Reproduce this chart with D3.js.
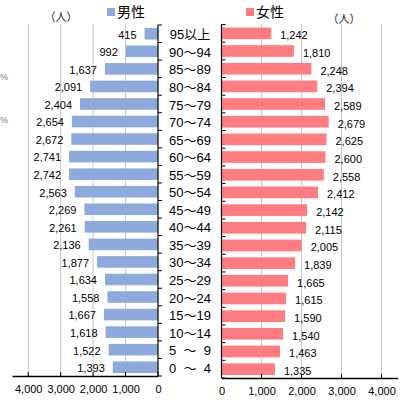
<!DOCTYPE html>
<html>
<head>
<meta charset="utf-8">
<script src="https://cdn.jsdelivr.net/npm/d3@7"></script>
<style>
  html, body { margin: 0; padding: 0; background: #fff; }
  svg { display: block; font-family: "Liberation Sans", Arial, "Noto Sans CJK JP", sans-serif; }
</style>
</head>
<body>
<svg id="chart" width="404" height="400"></svg>
<script>
// Age groups, oldest at the top
const ageGroups = ["95以上", "90～94", "85～89", "80～84", "75～79", "70～74", "65～69", "60～64",
  "55～59", "50～54", "45～49", "40～44", "35～39", "30～34", "25～29", "20～24",
  "15～19", "10～14", "5\u2007～\u20079", "0\u2007～\u20074"];
const male = [415, 992, 1637, 2091, 2404, 2654, 2672, 2741, 2742, 2563,
  2269, 2261, 2136, 1877, 1634, 1558, 1667, 1618, 1522, 1393];
const female = [1242, 1810, 2248, 2394, 2589, 2679, 2625, 2600, 2558, 2412,
  2142, 2115, 2005, 1839, 1665, 1615, 1590, 1540, 1463, 1335];
const tickValues = [0, 1000, 2000, 3000, 4000];

const svg = d3.select("#chart");
const fmt = d3.format(",");
const maleColor = "#8EA9DB";
const femaleColor = "#FF7C80";

// Scales: men grow to the left, women to the right
const xMale = d3.scaleLinear().domain([0, 4500]).range([158, 12]);
const xFemale = d3.scaleLinear().domain([0, 4400]).range([221.5, 397.5]);
const yMale = d3.scaleBand().domain(ageGroups).range([25, 376]).paddingInner(0.34).paddingOuter(0.17);
const yFemale = d3.scaleBand().domain(ageGroups).range([24.5, 378]).paddingInner(0.34).paddingOuter(0.17);

// Gridlines
svg.append("g").selectAll("line").data(tickValues.slice(1)).join("line")
  .attr("x1", d => xMale(d)).attr("x2", d => xMale(d))
  .attr("y1", 24).attr("y2", 376)
  .attr("stroke", "#c8c8c8").attr("stroke-width", 1);
svg.append("g").selectAll("line").data(tickValues.slice(1)).join("line")
  .attr("x1", d => xFemale(d)).attr("x2", d => xFemale(d))
  .attr("y1", 24).attr("y2", 378)
  .attr("stroke", "#c8c8c8").attr("stroke-width", 1);

// Bars
svg.append("g").selectAll("rect").data(male).join("rect")
  .attr("x", d => xMale(d)).attr("width", d => xMale(0) - xMale(d))
  .attr("y", (d, i) => yMale(ageGroups[i])).attr("height", yMale.bandwidth())
  .attr("fill", maleColor);
svg.append("g").selectAll("rect").data(female).join("rect")
  .attr("x", xFemale(0)).attr("width", d => xFemale(d) - xFemale(0))
  .attr("y", (d, i) => yFemale(ageGroups[i])).attr("height", yFemale.bandwidth())
  .attr("fill", femaleColor);

// Value labels
svg.append("g").selectAll("text").data(male).join("text")
  .attr("x", d => xMale(d) - 8)
  .attr("y", (d, i) => yMale(ageGroups[i]) + yMale.bandwidth() / 2 + 1)
  .attr("dy", "0.35em").attr("text-anchor", "end")
  .attr("font-size", 11).attr("fill", "#000")
  .text(d => fmt(d));
svg.append("g").selectAll("text").data(female).join("text")
  .attr("x", d => xFemale(d) + 9)
  .attr("y", (d, i) => yFemale(ageGroups[i]) + yFemale.bandwidth() / 2 + 2)
  .attr("dy", "0.35em").attr("text-anchor", "start")
  .attr("font-size", 11).attr("fill", "#000")
  .text(d => fmt(d));

// Category axes (ticks at band boundaries, pointing right)
function bandAxis(x, y, top, bottom) {
  const g = svg.append("g");
  g.append("line").attr("x1", x).attr("x2", x).attr("y1", top).attr("y2", bottom)
    .attr("stroke", "#000").attr("stroke-width", 1.2);
  const step = y.step();
  const edges = d3.range(ageGroups.length + 1).map(i => top + i * step);
  g.selectAll("line.tick").data(edges).join("line").attr("class", "tick")
    .attr("x1", x).attr("x2", x + 4).attr("y1", d => d).attr("y2", d => d)
    .attr("stroke", "#000").attr("stroke-width", 1);
}
bandAxis(xMale(0), yMale, 25, 376);
bandAxis(xFemale(0), yFemale, 24.5, 378);

// Age group labels in the middle
svg.append("g").selectAll("text").data(ageGroups).join("text")
  .attr("x", 190)
  .attr("y", d => yMale(d) + yMale.bandwidth() / 2 + 1)
  .attr("dy", "0.35em").attr("text-anchor", "middle")
  .attr("font-size", 13).attr("fill", "#000")
  .text(d => d);

// Value axes at the bottom
const axMale = svg.append("g").attr("transform", "translate(0,376)")
  .call(d3.axisBottom(xMale).tickValues(tickValues).tickFormat(fmt).tickSize(0).tickPadding(9));
axMale.select(".domain").attr("stroke", "#000").attr("stroke-width", 1.5);
axMale.selectAll("text").attr("font-size", 11).attr("fill", "#000")
  .attr("font-family", "'Liberation Sans', Arial, sans-serif");

const axFemale = svg.append("g").attr("transform", "translate(0,378)")
  .call(d3.axisBottom(xFemale).tickValues(tickValues).tickFormat(fmt).tickSize(0).tickPadding(9));
axFemale.select(".domain").attr("stroke", "#000").attr("stroke-width", 1.5);
axFemale.selectAll("text").attr("font-size", 11).attr("fill", "#000")
  .attr("font-family", "'Liberation Sans', Arial, sans-serif");

// Small upward tick marks on the value axes
svg.append("g").selectAll("line").data(tickValues).join("line")
  .attr("x1", d => xMale(d)).attr("x2", d => xMale(d)).attr("y1", 372).attr("y2", 376)
  .attr("stroke", "#000");
svg.append("g").selectAll("line").data(tickValues).join("line")
  .attr("x1", d => xFemale(d)).attr("x2", d => xFemale(d)).attr("y1", 374).attr("y2", 378)
  .attr("stroke", "#000");

// Legend
svg.append("rect").attr("x", 107).attr("y", 8).attr("width", 8).attr("height", 8).attr("fill", maleColor);
svg.append("text").attr("x", 117).attr("y", 17).attr("font-size", 14).attr("fill", "#000").text("男性");
svg.append("rect").attr("x", 246).attr("y", 8).attr("width", 8).attr("height", 8).attr("fill", femaleColor);
svg.append("text").attr("x", 256).attr("y", 17).attr("font-size", 14).attr("fill", "#000").text("女性");

// Unit labels
svg.append("text").attr("x", 61).attr("y", 21).attr("text-anchor", "middle")
  .attr("font-size", 11).attr("fill", "#222").text("（人）");
svg.append("text").attr("x", 344).attr("y", 23).attr("text-anchor", "middle")
  .attr("font-size", 11).attr("fill", "#222").text("（人）");

// Percent marks at the left edge
svg.append("g").selectAll("text").data([80, 123]).join("text")
  .attr("x", 0).attr("y", d => d).attr("text-anchor", "start")
  .attr("font-size", 9).attr("fill", "#777").text("%");
</script>
</body>
</html>
